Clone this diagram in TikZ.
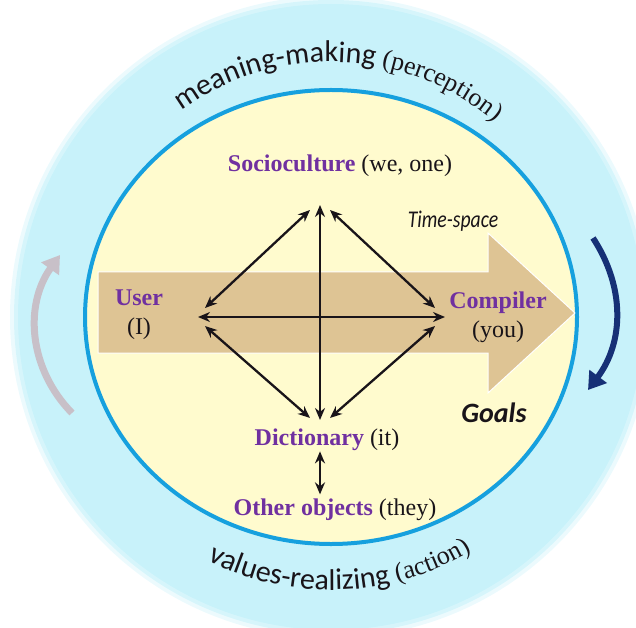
\documentclass[tikz,border=0pt]{standalone}
\usepackage{fontspec}
\setmainfont{Liberation Serif}
\newfontfamily\calib{Carlito}
\newfontfamily\narrowcue[FakeStretch=0.82]{Carlito}
\usepackage{xcolor}
\usetikzlibrary{arrows.meta,positioning,decorations.text}
\definecolor{ringcyan}{RGB}{200,242,250}
\definecolor{coreyellow}{RGB}{255,251,206}
\definecolor{rimblue}{RGB}{22,160,222}
\definecolor{papyrus}{RGB}{222,196,148}
\definecolor{agentpurple}{RGB}{112,48,160}
\definecolor{inkdark}{RGB}{25,20,25}
\definecolor{navyturn}{RGB}{22,48,118}
\definecolor{greyturn}{RGB}{200,192,200}
\tikzset{
  lbl/.style={inner sep=0pt, align=center, text=inkdark, font=\fontsize{24}{29}\selectfont},
  cue/.style={inner sep=0pt, text=inkdark},
  twoway/.style={{Stealth[length=12pt,width=10pt]}-{Stealth[length=12pt,width=10pt]},
                 line width=2.3pt, draw=inkdark},
  turn/.style={-{Triangle[length=17pt,width=21pt]}, line width=7pt},
}
\newcommand{\ringsans}{\fontsize{30}{36}\selectfont\calib}
\newcommand{\ringserif}{\fontsize{26}{30}\selectfont\rmfamily}
\newcommand{\agent}[1]{\textcolor{agentpurple}{\textbf{#1}}}

\begin{document}
\begin{tikzpicture}[x=1pt, y=1pt]
  \useasboundingbox (0,0) rectangle (636,627);
  \clip (0,0) rectangle (636,627);
  \coordinate (C) at (331,310);
  \fill[ringcyan, opacity=0.35] (C) circle (321);
  \fill[ringcyan, opacity=0.6] (C) circle (317);
  \fill[ringcyan] (C) circle (313);
  \filldraw[fill=coreyellow, draw=rimblue, line width=4pt] (C) ellipse [x radius=246, y radius=227];
  \filldraw[fill=papyrus, draw=white, line width=1pt]
    (98,355) -- (488,355) -- (488,394) -- (575,314) -- (488,234) -- (488,274) -- (98,274) -- cycle;

  \path[decorate, decoration={text along path, text align=center, text color=inkdark,
        text={|\ringsans|meaning-making |\ringserif|(perception)}}]
    ([shift={(132:255)}]C) arc[start angle=132, end angle=44, radius=255];
  \path[decorate, decoration={text along path, text align=center, text color=inkdark,
        text={|\ringsans|values-realizing |\ringserif|(action)}}]
    ([shift={(236:273)}]C) arc[start angle=236, end angle=308, radius=273];

  \node[lbl, anchor=base] (soc) at (340,455) {\agent{Socioculture} (we, one)};
  \node[lbl] (user) at (139,312) {\agent{User}\\(I)};
  \node[lbl] (comp) at (498,310) {\agent{Compiler}\\(you)};
  \node[lbl, anchor=base] (dict) at (327,182) {\agent{Dictionary} (it)};
  \node[lbl, below=48pt of dict, xshift=8pt] (other) {\agent{Other objects} (they)};
  \node[cue, anchor=base, font=\fontsize{24}{28}\selectfont\narrowcue\itshape] (tspace) at (453,399) {Time-space};
  \node[cue, anchor=base, font=\fontsize{28}{32}\selectfont\calib\bfseries\itshape] (goals) at (494,205) {Goals};

  \coordinate (tp) at (320,422);
  \coordinate (bt) at (320,207);
  \coordinate (lf) at (198,310);
  \coordinate (rt) at (445,310);
  \draw[twoway] (tp) -- (bt);
  \draw[twoway] (lf) -- (rt);
  \draw[twoway] ([shift={(-10,-5)}]tp) -- ([shift={(7,9)}]lf);
  \draw[twoway] ([shift={(10,-5)}]tp) -- ([shift={(-10,9)}]rt);
  \draw[twoway] ([shift={(7,-9)}]lf) -- ([shift={(-10,2)}]bt);
  \draw[twoway] ([shift={(-10,-9)}]rt) -- ([shift={(10,2)}]bt);
  \draw[twoway] ([yshift=-1pt]dict.south -| bt) -- ([yshift=4pt]other.north -| bt);

  \coordinate (gy0) at (72,214);
  \coordinate (gy1) at (60,372);
  \coordinate (nv0) at (593,389);
  \coordinate (nv1) at (588,237);
  \draw[turn, greyturn] (gy0) to[bend left=40] (gy1);
  \draw[turn, navyturn, line width=6pt] (nv0) to[bend left=35] (nv1);
\end{tikzpicture}
\end{document}
